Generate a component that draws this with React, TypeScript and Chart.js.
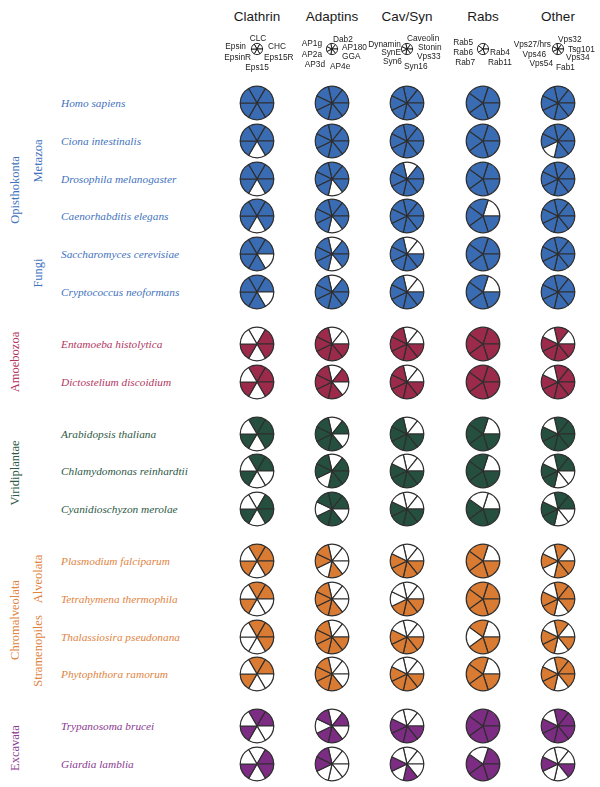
import React, { useEffect, useRef } from "react";
import { Chart, registerables } from "chart.js";

Chart.register(...registerables);

// ---------------- DATA ----------------
const families = ["Clathrin", "Adaptins", "Cav/Syn", "Rabs", "Other"];

// components of each family, in clockwise order of the slices
const clathrinParts = ["CLC", "CHC", "Eps15R", "Eps15", "EpsinR", "Epsin"];
const adaptinParts = ["Dab2", "AP180", "GGA", "AP4e", "AP3d", "AP2a", "AP1g"];
const cavSynParts = ["Caveolin", "Stonin", "Vps33", "Syn16", "Syn6", "SynE", "Dynamin"];
const rabParts = ["Rab4", "Rab11", "Rab7", "Rab6", "Rab5"];
const otherParts = ["Vps32", "Tsg101", "Vps34", "Fab1", "Vps54", "Vps46", "Vps27/hrs"];

const organisms = [
  "Homo sapiens",
  "Ciona intestinalis",
  "Drosophila melanogaster",
  "Caenorhabditis elegans",
  "Saccharomyces cerevisiae",
  "Cryptococcus neoformans",
  "Entamoeba histolytica",
  "Dictostelium discoidium",
  "Arabidopsis thaliana",
  "Chlamydomonas reinhardtii",
  "Cyanidioschyzon merolae",
  "Plasmodium falciparum",
  "Tetrahymena thermophila",
  "Thalassiosira pseudonana",
  "Phytophthora ramorum",
  "Trypanosoma brucei",
  "Giardia lamblia",
];
const organismGroup = [0, 0, 0, 0, 0, 0, 1, 1, 2, 2, 2, 3, 3, 3, 3, 4, 4];

const supergroups = ["Opisthokonta", "Amoebozoa", "Viridiplantae", "Chromalveolata", "Excavata"];
const subgroups = ["Metazoa", "Fungi", "Alveolata", "Stramenopiles"];

// presence (1) / absence (0) per component, one string per organism
const clathrinPresence = [
  "111111", "111011", "111011", "111011", "110111", "110111",
  "011010", "111010",
  "111010", "110010", "011010",
  "111010", "110010", "111000", "110010",
  "110010", "011010",
];
const adaptinPresence = [
  "1111111", "1111111", "1110111", "1110111", "0110111", "0111111",
  "0011111", "0101111",
  "0101111", "0111011", "1101101",
  "0001011", "0001111", "0011111", "0001111",
  "0101101", "0000011",
];
const cavSynPresence = [
  "1111111", "1111111", "0111111", "1111111", "0011111", "0011111",
  "0011111", "0011111",
  "0011111", "0011110", "0011110",
  "0011110", "0011100", "0011110", "0011110",
  "0011110", "0001010",
];
const rabPresence = [
  "11111", "11111", "11111", "01111", "11111", "01111",
  "11111", "11111",
  "01111", "01111", "01110",
  "01111", "11111", "01101", "01111",
  "11111", "11110",
];
const otherPresence = [
  "1111111", "1111011", "1111111", "1111111", "1111111", "1111111",
  "1011110", "1111110",
  "1111110", "1100110", "1100110",
  "1011010", "1110110", "1010110", "1110110",
  "1111110", "0010010",
];

// ---------------- STYLE / LAYOUT ----------------
const pieColors = ["#3a6cb4", "#9b2a4b", "#25503f", "#d97b33", "#7c2c83"];
const textColors = ["#3f73bd", "#b3365f", "#2d5946", "#e0843f", "#8a3a91"];

const familyParts = [clathrinParts, adaptinParts, cavSynParts, rabParts, otherParts];
const familyPresence = [clathrinPresence, adaptinPresence, cavSynPresence, rabPresence, otherPresence];
const familyRotation = [-30, -90 / 7, -90 / 7, 18, -90 / 7];

const colX = [257, 332, 407, 483, 558];
const firstRowY = 103;
const rowStep = 37.75;
const groupGap = 14.3;

function rowY(i: number) {
  return firstRowY + i * rowStep + organismGroup[i] * groupGap;
}

// legend label offsets relative to the icon centre (dx, dy, anchor)
const legendLayout: Array<Array<[number, number, string]>> = [
  [[1, -11, "c"], [11, -3, "l"], [7, 8, "l"], [0, 18, "c"], [-6, 8, "r"], [-11, -3, "r"]],
  [[1, -10, "l"], [10, -2, "l"], [10, 7, "l"], [-2, 17, "l"], [-7, 15, "r"], [-10, 5, "r"], [-10, -6, "r"]],
  [[0, -11, "l"], [11, -2, "l"], [10, 7, "l"], [-3, 17, "l"], [-5, 12, "r"], [-6, 3, "r"], [-6, -5, "r"]],
  [[7, 3, "l"], [5, 13, "l"], [-8, 13, "r"], [-10, 3, "r"], [-10, -7, "r"]],
  [[0, -10, "l"], [10, 0, "l"], [8, 8, "l"], [-2, 18, "l"], [-5, 14, "r"], [-12, 5, "r"], [-7, -5, "r"]],
];

const groupLabels: Array<[string, number, number, number]> = [
  [supergroups[0], 0, 15, 190],
  [subgroups[0], 0, 38, 161],
  [subgroups[1], 0, 38, 273],
  [supergroups[1], 1, 15, 362],
  [supergroups[2], 2, 15, 473],
  [supergroups[3], 3, 15, 620],
  [subgroups[2], 3, 38, 579],
  [subgroups[3], 3, 38, 651],
  [supergroups[4], 4, 15, 748],
];

// ---------------- COMPONENTS ----------------
function PieCell(props: {
  cx: number;
  cy: number;
  radius: number;
  parts: string[];
  fills: string[];
  rotation: number;
  borderWidth: number;
  borderColor: string;
}) {
  const ref = useRef<HTMLCanvasElement | null>(null);
  const size = Math.ceil(props.radius * 2 + 4);
  useEffect(() => {
    if (!ref.current) return;
    const chart = new Chart(ref.current, {
      type: "pie",
      data: {
        labels: props.parts,
        datasets: [
          {
            data: props.parts.map(() => 1),
            backgroundColor: props.fills,
            borderColor: props.borderColor,
            borderWidth: props.borderWidth,
          },
        ],
      },
      options: {
        responsive: false,
        animation: false,
        events: [],
        rotation: props.rotation,
        radius: props.radius,
        layout: { padding: 0 },
        plugins: { legend: { display: false }, tooltip: { enabled: false } },
      },
    });
    return () => chart.destroy();
  }, []);
  return (
    <canvas
      ref={ref}
      width={size}
      height={size}
      style={{
        position: "absolute",
        left: props.cx - size / 2,
        top: props.cy - size / 2,
        width: size,
        height: size,
      }}
    />
  );
}

export default function App() {
  useEffect(() => {
    document.body.style.margin = "0";
  }, []);

  const sans = "'Liberation Sans', Arial, sans-serif";
  const serif = "'Liberation Serif', 'Times New Roman', serif";

  return (
    <div
      style={{
        position: "absolute",
        left: 0,
        top: 0,
        width: 600,
        height: 787,
        background: "#ffffff",
        overflow: "hidden",
      }}
    >
      {/* column titles */}
      {families.map((f, j) => (
        <div
          key={"t" + j}
          style={{
            position: "absolute",
            left: colX[j] - 50,
            width: 100,
            top: 9,
            textAlign: "center",
            fontFamily: sans,
            fontSize: 13.5,
            color: "#1a1a1a",
            lineHeight: "16px",
          }}
        >
          {f}
        </div>
      ))}

      {/* legend icons */}
      {familyParts.map((parts, j) => (
        <PieCell
          key={"ic" + j}
          cx={colX[j]}
          cy={49}
          radius={5.6}
          parts={parts}
          fills={parts.map(() => "#ffffff")}
          rotation={familyRotation[j]}
          borderWidth={0.9}
          borderColor="#111"
        />
      ))}

      {/* legend labels */}
      {familyParts.map((parts, j) =>
        parts.map((p, k) => {
          const [dx, dy, anchor] = legendLayout[j][k];
          const x = colX[j] + dx;
          const y = 49 + dy;
          const style: React.CSSProperties = {
            position: "absolute",
            top: y - 5,
            fontFamily: sans,
            fontSize: 8.3,
            lineHeight: "10px",
            color: "#222",
            whiteSpace: "nowrap",
          };
          if (anchor === "l") style.left = x;
          else if (anchor === "r") {
            style.right = 600 - x;
          } else {
            style.left = x - 30;
            style.width = 60;
            style.textAlign = "center";
          }
          return (
            <div key={"lg" + j + "_" + k} style={style}>
              {p}
            </div>
          );
        })
      )}

      {/* group labels (vertical) */}
      {groupLabels.map(([label, g, x, y], i) => (
        <div
          key={"g" + i}
          style={{
            position: "absolute",
            left: x,
            top: y,
            transform: "translate(-50%, -50%) rotate(-90deg)",
            fontFamily: serif,
            fontSize: 12.5,
            color: textColors[g],
            whiteSpace: "nowrap",
            lineHeight: "14px",
          }}
        >
          {label}
        </div>
      ))}

      {/* organism names */}
      {organisms.map((o, i) => (
        <div
          key={"o" + i}
          style={{
            position: "absolute",
            left: 61,
            top: rowY(i) - 8,
            fontFamily: serif,
            fontStyle: "italic",
            fontSize: 11.3,
            lineHeight: "16px",
            color: textColors[organismGroup[i]],
            whiteSpace: "nowrap",
          }}
        >
          {o}
        </div>
      ))}

      {/* pies */}
      {organisms.map((o, i) =>
        familyParts.map((parts, j) => (
          <PieCell
            key={"p" + i + "_" + j}
            cx={colX[j]}
            cy={rowY(i)}
            radius={16.8}
            parts={parts}
            fills={familyPresence[j][i]
              .split("")
              .map((c) => (c === "1" ? pieColors[organismGroup[i]] : "#ffffff"))}
            rotation={familyRotation[j]}
            borderWidth={1.2}
            borderColor="#2e2e2e"
          />
        ))
      )}
    </div>
  );
}
